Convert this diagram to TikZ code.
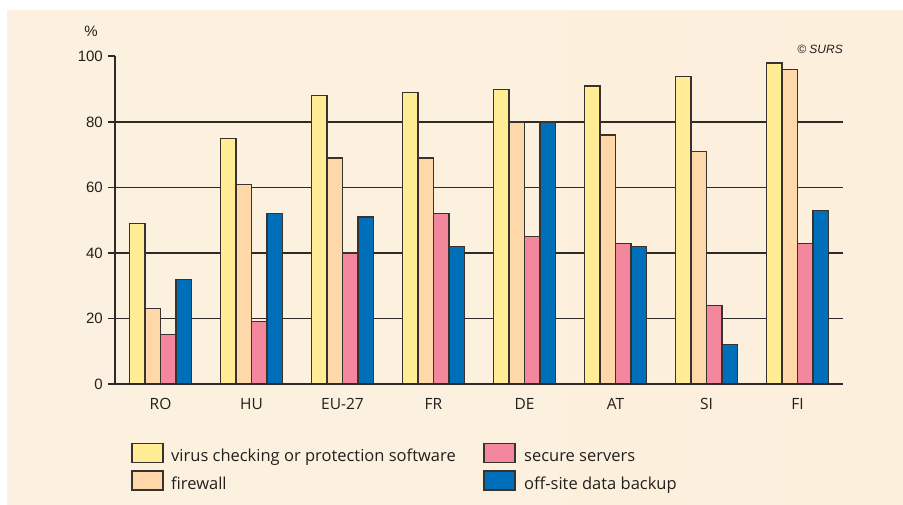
\documentclass[tikz,border=0pt]{standalone}
\usepackage{fontspec}
\setmainfont{Open Sans}
\newfontfamily\axisfont{Liberation Sans}
\definecolor{bgL}{HTML}{FCF1E0}
\definecolor{bgM}{HTML}{FDF6EA}
\definecolor{bgR}{HTML}{FCEFDC}
\definecolor{cVirus}{HTML}{FFEC94}
\definecolor{cFire}{HTML}{FED8A8}
\definecolor{cSecure}{HTML}{F3879D}
\definecolor{cBackup}{HTML}{006FB9}
\definecolor{barline}{HTML}{38332E}
\definecolor{gridline}{HTML}{2E2A26}
\definecolor{txt}{HTML}{231F1C}
\begin{document}
\begin{tikzpicture}[x=1pt,y=-1pt,
  bar/.style={draw=barline, line width=1.2pt, inner sep=0pt, outer sep=0pt,
              minimum width=15.5pt, anchor=south west},
  gridl/.style={draw=gridline, line width=1.1pt},
  ticklab/.style={font=\axisfont\fontsize{15}{15}\selectfont, text=txt, anchor=east, inner sep=0pt},
  catlab/.style={font=\fontsize{15.5}{16}\selectfont, text=txt, inner sep=0pt},
  legbox/.style={draw=barline, line width=1.2pt, minimum width=31pt, minimum height=19pt, inner sep=0pt},
  legtext/.style={font=\fontsize{16.5}{17}\selectfont, text=txt, anchor=base west, inner sep=0pt}]
  \useasboundingbox (0,0) rectangle (903,505);
  % panel background
  \fill[left color=bgL, middle color=bgM, right color=bgR] (7,11) rectangle (903,505);

  % horizontal grid lines and ticks
  \foreach \k in {1,...,4}{
    \draw[gridl] (108,{384-65.5*\k}) -- (843,{384-65.5*\k});
  }
  \draw[gridl] (108,56) -- (115,56);

  % bars: virus / firewall / secure servers / off-site backup
  \foreach \a/\b/\c/\d [count=\i from 0] in
    {49/23/15/32, 75/61/19/52, 88/69/40/51, 89/69/52/42,
     90/80/45/80, 91/76/43/42, 94/71/24/12, 98/96/43/53}{
    \pgfmathsetmacro\xo{129.5+91*\i}
    \node[bar, fill=cVirus,  minimum height={\a*3.275}] (v\i) at (\xo,384) {};
    \node[bar, fill=cFire,   minimum height={\b*3.275}] (f\i) at (\xo+15.5,384) {};
    \node[bar, fill=cSecure, minimum height={\c*3.275}] (s\i) at (\xo+31,384) {};
    \node[bar, fill=cBackup, minimum height={\d*3.275}] (o\i) at (\xo+46.5,384) {};
  }

  % axes
  \draw[gridl] (115,56) -- (115,384);
  \draw[gridl] (108,384) -- (843,384);

  % y tick labels
  \foreach \v [count=\k from 0] in {0,20,40,60,80,100}{
    \node[ticklab] (t\k) at (103,{384-65.5*\k}) {\v};
  }
  \node[font=\axisfont\fontsize{15}{15}\selectfont, text=txt, inner sep=0pt] (pct) at (91,31) {\%};
  \node[font=\axisfont\itshape\fontsize{12}{12}\selectfont, text=txt, anchor=east, inner sep=0pt]
    (src) at (843,49) {© SURS};

  % category labels
  \foreach \name [count=\i from 0] in {RO,HU,EU-27,FR,DE,AT,SI,FI}{
    \node[catlab] (c\i) at ({160.5+91*\i},404) {\name};
  }

  % legend
  \node[legbox, fill=cVirus]  (lv) at (147.5,453) {};
  \node[legbox, fill=cFire]   (lf) at (147.5,480.5) {};
  \node[legbox, fill=cSecure] (ls) at (499.5,453) {};
  \node[legbox, fill=cBackup] (lo) at (499.5,480.5) {};
  \node[legtext] (tv) at (171,461) {virus checking or protection software};
  \node[legtext] (tf) at (171,489) {firewall};
  \node[legtext] (ts) at (524,461) {secure servers};
  \node[legtext] (to) at (524,489) {off-site data backup};
\end{tikzpicture}
\end{document}
